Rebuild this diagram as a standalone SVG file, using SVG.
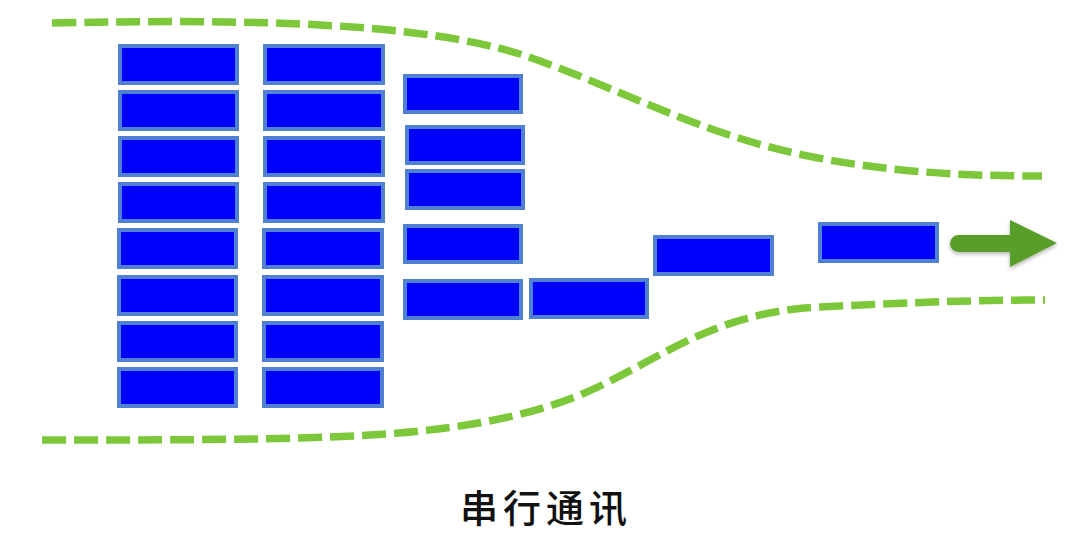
<svg xmlns="http://www.w3.org/2000/svg" width="1089" height="544" viewBox="0 0 1089 544">
<style>
.blk{fill:#0000FF;stroke:#5080D2;stroke-width:4}
.dash{fill:none;stroke:#7CC83A;stroke-width:7.5;stroke-dasharray:24 8}
.lbl{font-family:"Noto Sans CJK SC","Noto Sans CJK JP",sans-serif;font-size:38px;font-weight:500;fill:#111;text-anchor:middle;letter-spacing:5px}
</style>
<defs>
<filter id="sh" x="-20%" y="-30%" width="140%" height="170%">
<feDropShadow dx="0" dy="2" stdDeviation="2" flood-color="#000" flood-opacity="0.3"/>
</filter>
</defs>
<rect width="1089" height="544" fill="#fff"/>
<g id="boundary">
<path class="dash" d="M52,23 C250,19 420,22 523,55 C620,88 700,135 813,157 C900,174 980,176 1042,176"/>
<path class="dash" d="M42,440 C150,440 250,440 330,437 C440,433 530,420 600,386 C670,352 720,312 820,307 C920,302 980,300 1045,300"/>
</g>
<g id="col1">
<rect class="blk" x="120" y="46" width="117" height="37"/>
<rect class="blk" x="120" y="92" width="117" height="37"/>
<rect class="blk" x="120" y="138" width="117" height="37"/>
<rect class="blk" x="120" y="184" width="117" height="37"/>
<rect class="blk" x="119" y="230" width="117" height="37"/>
<rect class="blk" x="119" y="277" width="117" height="37"/>
<rect class="blk" x="119" y="323" width="117" height="37"/>
<rect class="blk" x="119" y="369" width="117" height="37"/>
</g>
<g id="col2">
<rect class="blk" x="265" y="46" width="118" height="37"/>
<rect class="blk" x="265" y="92" width="118" height="37"/>
<rect class="blk" x="265" y="138" width="118" height="37"/>
<rect class="blk" x="265" y="184" width="118" height="37"/>
<rect class="blk" x="264" y="230" width="118" height="37"/>
<rect class="blk" x="264" y="277" width="118" height="37"/>
<rect class="blk" x="264" y="323" width="118" height="37"/>
<rect class="blk" x="264" y="369" width="118" height="37"/>
</g>
<g id="col3">
<rect class="blk" x="405" y="76" width="116" height="36"/>
<rect class="blk" x="407" y="127" width="116" height="36"/>
<rect class="blk" x="407" y="171" width="116" height="37"/>
<rect class="blk" x="405" y="226" width="116" height="36"/>
<rect class="blk" x="405" y="281" width="116" height="37"/>
</g>
<g id="b4"><rect class="blk" x="531" y="280" width="116" height="37"/></g>
<g id="b5"><rect class="blk" x="655" y="237" width="117" height="37"/></g>
<g id="b6"><rect class="blk" x="820" y="224" width="117" height="37"/></g>
<g id="arrow" filter="url(#sh)">
<path d="M958.5,235 H1010 V220 L1057,243 L1010,267 V252 H958.5 A8.5,8.5 0 0 1 958.5,235 Z" fill="#5A9E2C"/>
</g>
<text class="lbl" x="546" y="522">串行通讯</text>
</svg>
